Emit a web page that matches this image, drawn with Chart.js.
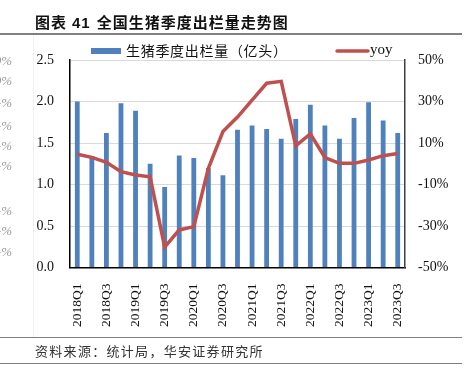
<!DOCTYPE html>
<html lang="zh">
<head>
    <meta charset="UTF-8">
    <title>全国生猪季度出栏量走势图</title>
    <script src="https://cdn.jsdelivr.net/npm/chart.js"></script>
    <style>
        body { margin: 0; background: #fff; }
        #wrap { position: relative; width: 467px; height: 380px; overflow: hidden; background: #fff; }
        #chart { position: absolute; left: 0; top: 0; }
        .title { position: absolute; left: 35px; top: 11px; font: bold 15px "Noto Sans CJK SC", sans-serif; color: #111; white-space: nowrap; letter-spacing: 1px; }
        .title b { font-family: "Liberation Sans", Arial, sans-serif; margin: 0 6px 0 5px; }
        .rule { position: absolute; left: 0; width: 462px; height: 0; border-top: 2px solid #808080; }
        .source { position: absolute; left: 35px; top: 341px; font: 13px "Noto Sans CJK SC", sans-serif; color: #333; letter-spacing: 1.3px; white-space: nowrap; }
        .frag { position: absolute; right: 455px; font: italic 13px "Liberation Serif", serif; color: #9a9a9a; white-space: nowrap; }
        .frame { position: absolute; left: 33px; top: 36px; width: 0; height: 301px; border-left: 1px solid #f0f0f0; }
    </style>
</head>
<body>
<div id="wrap">
    <canvas id="chart" width="467" height="380"></canvas>
    <div class="title">图表<b>41</b>全国生猪季度出栏量走势图</div>
    <div class="rule" style="top:33px"></div>
    <div class="frame"></div>
    <div class="rule" style="top:337px; border-top-width:1.5px"></div>
    <div class="source">资料来源：统计局，华安证券研究所</div>
    <div class="rule" style="top:363px; border-top-width:1.5px"></div>
    <div class="frag" style="top:53px">50%</div>
    <div class="frag" style="top:73px">40%</div>
    <div class="frag" style="top:95px">-%</div>
    <div class="frag" style="top:118px">-%</div>
    <div class="frag" style="top:138px">-%</div>
    <div class="frag" style="top:158px">-%</div>
    <div class="frag" style="top:203px">-%</div>
    <div class="frag" style="top:223px">-%</div>
    <div class="frag" style="top:244px">-%</div>
</div>
<script>
    const quarters = [
        "2018Q1", "2018Q2", "2018Q3", "2018Q4",
        "2019Q1", "2019Q2", "2019Q3", "2019Q4",
        "2020Q1", "2020Q2", "2020Q3", "2020Q4",
        "2021Q1", "2021Q2", "2021Q3", "2021Q4",
        "2022Q1", "2022Q2", "2022Q3", "2022Q4",
        "2023Q1", "2023Q2", "2023Q3"
    ];
    // 亿头
    const slaughter = [
        2.00, 1.34, 1.62, 1.98,
        1.89, 1.25, 0.97, 1.35,
        1.32, 1.20, 1.11, 1.66,
        1.71, 1.67, 1.55, 1.79,
        1.96, 1.71, 1.55, 1.80,
        1.99, 1.77, 1.62
    ];
    // %
    const yoy = [
        4.6, 3.1, 0.7, -3.8,
        -5.4, -6.3, -40.2, -31.9,
        -30.3, -2.2, 15.5, 22.5,
        30.7, 38.8, 39.7, 8.6,
        14.4, 3.0, 0.2, 0.2,
        1.8, 3.9, 4.9
    ];
    const seriesNames = ["生猪季度出栏量（亿头）", "yoy"];

    const blue = "#4F81BD";
    const red = "#C0504D";
    const tickFont = { family: "'Liberation Serif', 'Times New Roman', serif", size: 14 };

    // legend drawn by hand so it sits where the original one does
    const legendPlugin = {
        id: "customLegend",
        afterDraw(chart) {
            const ctx = chart.ctx;
            ctx.save();
            ctx.fillStyle = blue;
            ctx.fillRect(91, 48, 30, 6);
            ctx.font = "14px 'Noto Sans CJK SC', sans-serif";
            ctx.letterSpacing = "0.7px";
            ctx.fillStyle = "#111";
            ctx.textBaseline = "middle";
            ctx.fillText(seriesNames[0], 126, 51);
            ctx.letterSpacing = "0px";
            ctx.strokeStyle = red;
            ctx.lineWidth = 3.5;
            ctx.lineCap = "round";
            ctx.beginPath();
            ctx.moveTo(337, 51);
            ctx.lineTo(368, 51);
            ctx.stroke();
            ctx.font = "15px 'Liberation Serif', serif";
            ctx.fillText(seriesNames[1], 370, 50);
            ctx.restore();
        }
    };

    new Chart(document.getElementById("chart"), {
        data: {
            labels: quarters,
            datasets: [
                {
                    type: "line",
                    label: seriesNames[1],
                    data: yoy,
                    yAxisID: "yr",
                    borderColor: red,
                    borderWidth: 3.5,
                    pointRadius: 0,
                    tension: 0,
                    order: 0
                },
                {
                    type: "bar",
                    label: seriesNames[0],
                    data: slaughter,
                    yAxisID: "y",
                    backgroundColor: blue,
                    categoryPercentage: 1,
                    barPercentage: 0.33,
                    order: 1
                }
            ]
        },
        options: {
            responsive: false,
            animation: false,
            layout: { padding: { top: 60, left: 0, right: 0, bottom: 0 } },
            plugins: {
                legend: { display: false },
                tooltip: { enabled: false }
            },
            scales: {
                x: {
                    offset: true,
                    grid: { display: false },
                    border: { color: "#000", width: 1.5 },
                    afterFit: (s) => { s.height = 112.5; },
                    ticks: {
                        autoSkip: false,
                        maxRotation: 90,
                        minRotation: 90,
                        padding: 8,
                        color: "#111",
                        font: { family: tickFont.family, size: 13.5 },
                        callback: function (v, i) { return i % 2 === 0 ? this.getLabelForValue(v) : ""; }
                    }
                },
                y: {
                    position: "left",
                    min: 0,
                    max: 2.5,
                    afterFit: (s) => { s.width = 70; },
                    grid: { color: "#d9d9d9", lineWidth: 1, drawTicks: false },
                    border: { color: "#000", width: 1.5 },
                    ticks: {
                        stepSize: 0.5,
                        padding: 16,
                        color: "#111",
                        font: tickFont,
                        callback: (v) => v.toFixed(1)
                    }
                },
                yr: {
                    position: "right",
                    min: -50,
                    max: 50,
                    afterFit: (s) => { s.width = 62; },
                    grid: { display: false, drawTicks: false },
                    border: { color: "#404040", width: 1.5 },
                    ticks: {
                        stepSize: 20,
                        padding: 13,
                        color: "#111",
                        font: tickFont,
                        callback: (v) => v + "%"
                    }
                }
            }
        },
        plugins: [legendPlugin]
    });
</script>
</body>
</html>
